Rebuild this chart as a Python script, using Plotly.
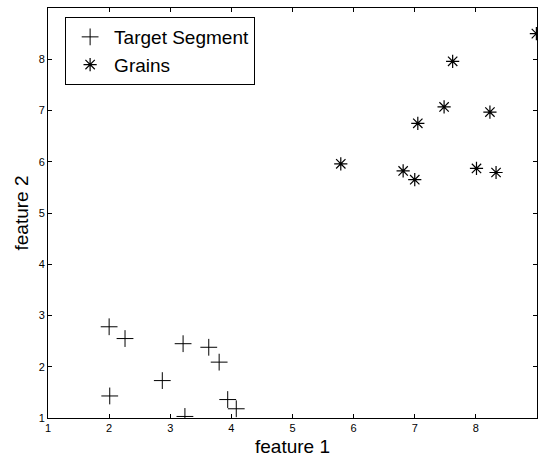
import plotly.graph_objects as go

# Target Segment points
seg_x = [2.00, 2.26, 2.01, 2.87, 3.21, 3.24, 3.63, 3.80, 3.94, 4.08]
seg_y = [2.78, 2.55, 1.43, 1.73, 2.45, 1.03, 2.38, 2.09, 1.36, 1.18]

# Grains points
grain_x = [5.79, 6.81, 7.00, 7.05, 7.48, 7.62, 8.01, 8.23, 8.33, 8.99]
grain_y = [5.96, 5.82, 5.65, 6.75, 7.07, 7.96, 5.87, 6.97, 5.79, 8.50]

x_ticks = [1, 2, 3, 4, 5, 6, 7, 8, 9]
x_ticktext = ["1", "2", "3", "4", "5", "6", "7", "8", "9"]
y_ticks = [1, 2, 3, 4, 5, 6, 7, 8, 9]
y_ticktext = ["1", "2", "3", "4", "5", "6", "7", "8", ""]

FONT = "Liberation Sans, Arial, Helvetica, sans-serif"

fig = go.Figure()
fig.add_trace(go.Scatter(
    x=seg_x, y=seg_y, mode="markers", name="Target Segment",
    marker=dict(symbol="cross-thin-open", size=12, color="black",
                line=dict(color="black", width=1)),
))
fig.add_trace(go.Scatter(
    x=grain_x, y=grain_y, mode="markers", name="Grains",
    marker=dict(symbol="asterisk-open", size=11, color="black",
                line=dict(color="black", width=1.2)),
))

axis_common = dict(
    showgrid=False, zeroline=False, showline=True, linecolor="black",
    linewidth=1, mirror="ticks", ticks="inside", ticklen=4,
    tickcolor="black", tickwidth=1,
    tickfont=dict(family=FONT, size=11, color="black"),
)

fig.update_layout(
    width=538, height=457,
    margin=dict(l=48, r=1, t=8, b=39, autoexpand=False),
    paper_bgcolor="white", plot_bgcolor="white",
    font=dict(family=FONT, color="black"),
    xaxis=dict(range=[1, 9], tickmode="array", tickvals=x_ticks,
               ticktext=x_ticktext, automargin=False,
               title=dict(text="feature 1", font=dict(size=19)),
               **axis_common),
    yaxis=dict(range=[1, 9], tickmode="array", tickvals=y_ticks,
               ticktext=y_ticktext, automargin=True,
               title=dict(text="feature 2", font=dict(size=19), standoff=5),
               **axis_common),
    showlegend=True,
    legend=dict(x=0.035, y=0.978, xanchor="left", yanchor="top",
                bgcolor="white", bordercolor="black", borderwidth=1,
                font=dict(family=FONT, size=19, color="black"),
                itemwidth=38, tracegroupgap=0),
)

fig.write_html(
    "out.html",
    config={"displayModeBar": False},
    post_script="document.body.style.margin='0';document.body.style.overflow='hidden';",
)
